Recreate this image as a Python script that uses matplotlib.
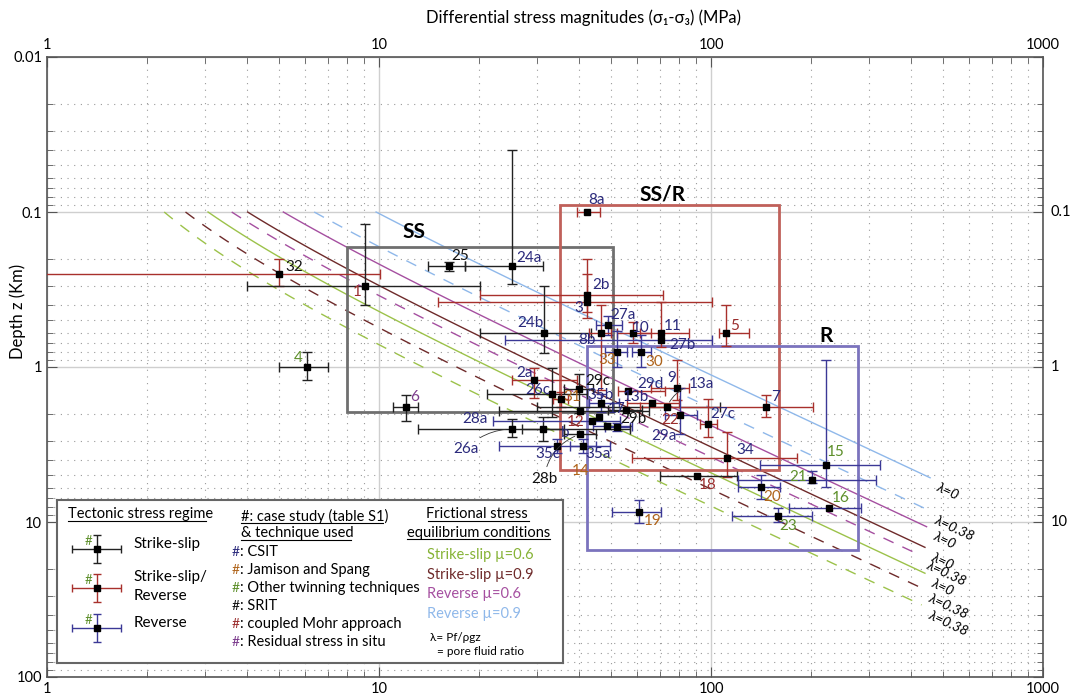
import numpy as np
import matplotlib
matplotlib.use('Agg')
import matplotlib.pyplot as plt
from matplotlib.patches import Rectangle
from matplotlib import transforms
from matplotlib.ticker import FuncFormatter, NullFormatter

plt.rcParams['font.family'] = ['Lato', 'DejaVu Sans']

# ---- case studies -------------------------------------------------------
labels = ['32', '1', '4', '6', '25', '24a', '8a', '2b', '3', '27a', '24b', '8b', '10', '11',
          '27b', '5', '33', '30', '2a', '26c', '31', '29c', '35b', '29d', '13b', '9', '13a',
          '7', '22', '27c', '17', '12', '29b', '29a', 'b', '28a', '26a', '28b', '35c', '35a',
          '34', '18', '15', '21', '20', '16', '23', '19', '']
regime = ['SSR', 'SS', 'SS', 'SS', 'SS', 'SS', 'SSR', 'SSR', 'SSR', 'R', 'SS', 'SSR', 'SSR', 'SSR',
          'R', 'SSR', 'R', 'R', 'SSR', 'SS', 'SSR', 'SS', 'R', 'SSR', 'SSR', 'SSR', 'SS',
          'SSR', 'R', 'SSR', 'SS', 'SS', 'R', 'R', 'SS', 'R', 'SS', 'SS', 'R', 'R',
          'SSR', 'SS', 'R', 'R', 'R', 'R', 'R', 'R', 'SS']
technique = ['S', 'M', 'O', 'P', 'S', 'C', 'C', 'C', 'C', 'C', 'C', 'C', 'C', 'C',
             'C', 'M', 'J', 'J', 'C', 'C', 'J', 'S', 'C', 'C', 'C', 'C', 'C',
             'C', 'M', 'C', 'C', 'M', 'S', 'C', 'C', 'C', 'C', 'S', 'C', 'C',
             'C', 'M', 'O', 'O', 'J', 'O', 'O', 'J', 'S']
stress = [5.0, 9.1, 6.06, 12.1, 16.2, 25.2, 42.2, 42.4, 42.4, 49.1, 31.3, 46.5, 58.3, 70.6,
          70.6, 110.7, 52.2, 61.5, 29.2, 33.3, 35.3, 39.9, 46.5, 56.4, 66.4, 78.8, 73.6,
          146.5, 80.6, 98.1, 55.3, 40.3, 52.2, 48.7, 31.1, 43.7, 25.1, 40.3, 34.3, 41.3,
          112, 90.6, 222, 202, 141.5, 227, 158.8, 60.7, 46.0]
stress_lo = [0.5, 4.0, 5.0, 11.0, 14.0, 18.2, 39.4, 20.2, 15.1, 45.0, 20.2, 43.0, 52, 61,
             24, 106, 48, 58, 25.1, 21.1, 33.5, 36, 43, 52.5, 56, 66, 29.9,
             61.1, 72.7, 92.7, 49, 23, 48, 44, 27, 22.0, 13.1, 36, 23, 37.5,
             57.7, 70.2, 140.5, 120.6, 120.6, 171.8, 115.7, 50.4, np.nan]
stress_hi = [10.1, 20.2, 7.0, 13.1, 18.2, 31.2, 46.3, 71.7, 100.7, 54.0, 43.5, 50.0, 66, 86,
             101, 130.5, 56, 66, 39.4, 42.2, 37.2, 44, 53, 72.7, 80, 86, 106.5,
             202.5, 90.6, 104, 62, 65, 57, 58, 36, 53.2, 57.0, 45, 45, 49.5,
             181, 119.5, 323, 314, 161.4, 282.4, 201.9, 70.7, np.nan]
depth = [0.25, 0.30, 1.0, 1.82, 0.222, 0.222, 0.10, 0.345, 0.38, 0.536, 0.60, 0.60, 0.60, 0.60,
         0.67, 0.60, 0.80, 0.80, 1.21, 1.49, 1.62, 1.39, 1.71, 1.43, 1.70, 1.36, 1.81,
         1.82, 2.04, 2.33, 1.89, 1.91, 2.45, 2.40, 2.52, 2.23, 2.51, 2.71, 3.23, 3.23,
         3.85, 5.05, 4.29, 5.36, 5.92, 8.09, 9.15, 8.66, 2.09]
depth_lo = [0.20, 0.12, 0.80, 1.52, 0.21, 0.040, np.nan, 0.20, 0.25, 0.47, 0.30, 0.40, 0.51, 0.38,
            np.nan, 0.40, 0.59, 0.62, 1.02, 1.01, 1.45, 1.11, 1.5, np.nan, np.nan, 0.90, np.nan,
            1.52, 1.37, 1.61, np.nan, np.nan, 2.3, np.nan, 2.1, np.nan, 2.18, np.nan, 2.9, 2.9,
            2.62, np.nan, 0.90, 4.67, 4.95, np.nan, 8.16, 7.21, np.nan]
depth_hi = [0.30, 0.40, 1.21, 2.22, 0.24, 0.293, np.nan, 0.44, 0.48, 0.62, 0.81, 1.4, 0.70, 0.74,
            np.nan, 0.73, 1.0, 1.0, 1.59, 2.09, 1.8, 1.98, 1.95, np.nan, np.nan, 1.63, np.nan,
            2.09, 2.71, 2.83, np.nan, np.nan, 2.6, np.nan, 3.0, np.nan, 2.84, np.nan, 3.6, 3.6,
            5.10, np.nan, 5.97, 5.63, 7.14, np.nan, 9.95, 10.2, np.nan]

# tectonic regime boxes: (stress min, stress max, depth min, depth max)
box_names = ['SS', 'SS/R', 'R']
box_stress = [(8.0, 50.7), (35.1, 160.3), (42.3, 277)]
box_depth = [(0.168, 1.95), (0.090, 4.62), (0.732, 15.2)]

# frictional equilibrium lines: stress = c + gradient * depth (lambda = 0 and 0.38)
fric_names = ['Strike-slip µ=0.6', 'Strike-slip µ=0.9', 'Reverse µ=0.6', 'Reverse µ=0.9']
fric_grad = [(20.55, 12.54), (30.2, 16.13), (41.5, 26.0), (88.0, 53.8)]   # MPa/km
fric_end = [(441, 431), (441, 431), (446, 426), (457, 451)]                # MPa
fric_c = 1.0                                                               # MPa
fric_lambda = ['0', '0.38']
fric_top = 0.1                                                             # km

tech_names = ['CSIT', 'Jamison and Spang', 'Other twinning techniques', 'SRIT',
              'coupled Mohr approach', 'Residual stress in situ']
tech_keys = ['C', 'J', 'O', 'S', 'M', 'P']

# ---- styles -------------------------------------------------------------
regime_col = {'SS': '#222222', 'SSR': '#a8302c', 'R': '#3b3896'}
tech_col = {'C': '#2b2a7c', 'J': '#b0651c', 'O': '#5d8f2a', 'S': '#111111',
            'M': '#9b2e2e', 'P': '#7b3a8c'}
box_col = ['#6f6f6f', '#c0605a', '#7b73bd']
fric_col = ['#9cc24a', '#6e2a2a', '#a54fa0', '#8fb8ea']

# label offsets in pixels (dx right, dy down), alignment
lab_off = {'32': (6, -7, 'left'), '1': (-8, 6, 'center'), '4': (-9, -9, 'center'),
           '6': (4, -10, 'left'), '25': (3, -10, 'left'), '24a': (4, -8, 'left'),
           '8a': (10, -12, 'center'), '2b': (5, -10, 'left'), '3': (-8, 6, 'center'),
           '27a': (2, -10, 'left'), '24b': (-13, -10, 'center'), '8b': (-14, 7, 'center'),
           '10': (-1, -5, 'left'), '11': (3, -7, 'left'), '27b': (8, 5, 'left'),
           '5': (4, -7, 'left'), '33': (-10, 8, 'center'), '30': (4, 10, 'left'),
           '2a': (-9, -7, 'center'), '26c': (-15, -4, 'center'), '31': (2, -2, 'left'),
           '29c': (7, -8, 'left'), '35b': (0, -8, 'center'), '29d': (22, -7, 'center'),
           '13b': (-16, -6, 'center'), '9': (-5, -10, 'center'), '13a': (22, -23, 'left'),
           '7': (5, -10, 'left'), '22': (-10, 5, 'center'), '27c': (2, -10, 'left'),
           '17': (-9, -1, 'center'), '12': (-4, 11, 'center'), '29b': (3, -8, 'left'),
           '29a': (44, 10, 'left'), 'b': (18, 4, 'left'), '28a': (-104, -2, 'right'),
           '26a': (-46, 20, 'center'), '28b': (-36, 45, 'center'), '35c': (-9, 8, 'center'),
           '35a': (2, 8, 'left'), '34': (9, -8, 'left'), '18': (2, 9, 'left'),
           '15': (1, -13, 'left'), '21': (-14, -3, 'center'), '20': (2, 10, 'left'),
           '16': (3, -10, 'left'), '23': (2, 10, 'left'), '19': (5, 9, 'left')}
leaders = {'13a': 0.3, '26a': -0.2, '28b': -0.3}

fig = plt.figure(figsize=(10.7, 6.99), dpi=100)
ax = fig.add_axes([47 / 1070, 1 - 677 / 699, 996 / 1070, 620 / 699])
ax.set_xscale('log')
ax.set_yscale('log')
ax.set_xlim(1, 1000)
ax.set_ylim(100, 0.01)

ax.grid(which='major', color='#cfcfcf', lw=1.0, ls='-', zorder=0)
ax.grid(which='minor', color='#9a9a9a', lw=0.8, ls=(0, (1, 5)), zorder=0)
fmt = FuncFormatter(lambda v, p: f'{v:g}')
ax.xaxis.set_major_formatter(fmt)
ax.yaxis.set_major_formatter(fmt)
ax.xaxis.set_minor_formatter(NullFormatter())
ax.yaxis.set_minor_formatter(NullFormatter())
ax.tick_params(which='both', direction='in', top=True, right=True, labeltop=True,
               color='#555555', labelsize=10.5)
ax.tick_params(which='major', length=7)
ax.tick_params(which='minor', length=4)
for s in ax.spines.values():
    s.set_color('#555555')
    s.set_linewidth(1.2)
trans_r = transforms.blended_transform_factory(ax.transAxes, ax.transData)
for v in [0.1, 1, 10]:
    ax.text(1.008, v, f'{v:g}', transform=trans_r, ha='left', va='center', fontsize=10.5)

# frictional lines
for k in range(4):
    for j in range(2):
        g = fric_grad[k][j]
        zs = np.logspace(np.log10(fric_top), np.log10((fric_end[k][j] - fric_c) / g), 80)
        xs = fric_c + g * zs
        ax.plot(xs, zs, color=fric_col[k], lw=1.0,
                ls='-' if j == 0 else (0, (8, 7)), zorder=2)
        ax.annotate('λ=' + fric_lambda[j], (xs[-1], zs[-1]), xytext=(7, -9),
                    textcoords='offset pixels', rotation=-25, rotation_mode='anchor',
                    ha='left', va='center', fontsize=10, style='italic', zorder=5)

# regime boxes
for k in range(3):
    x0, x1 = box_stress[k]
    z0, z1 = box_depth[k]
    ax.add_patch(Rectangle((x0, z0), x1 - x0, z1 - z0, fill=False, ec=box_col[k],
                           lw=2.0, zorder=3))
ax.text(11.8, 0.135, 'SS', fontsize=15, fontweight='bold', ha='left', va='center', zorder=5)
ax.text(71.7, 0.077, 'SS/R', fontsize=15, fontweight='bold', ha='center', va='center', zorder=5)
ax.text(222, 0.63, 'R', fontsize=15, fontweight='bold', ha='center', va='center', zorder=5)

# case studies
for i in range(len(labels)):
    col = regime_col[regime[i]]
    xe = None if np.isnan(stress_lo[i]) else [[stress[i] - stress_lo[i]], [stress_hi[i] - stress[i]]]
    ye = None if np.isnan(depth_lo[i]) else [[depth[i] - depth_lo[i]], [depth_hi[i] - depth[i]]]
    ax.errorbar([stress[i]], [depth[i]], xerr=xe, yerr=ye, fmt='s', ms=4.5, mfc='black',
                mec='black', ecolor=col, elinewidth=1.0, capsize=3.5, capthick=1.0, zorder=4)
    if labels[i] == '':
        continue
    dx, dy, ha = lab_off[labels[i]]
    arrow = None
    if labels[i] in leaders:
        arrow = dict(arrowstyle='-', color='#333333', lw=0.6, shrinkA=2, shrinkB=4,
                     connectionstyle=f'arc3,rad={leaders[labels[i]]}')
    ax.annotate(labels[i], (stress[i], depth[i]), xytext=(dx, -dy), textcoords='offset pixels',
                ha=ha, va='center', fontsize=11, color=tech_col[technique[i]],
                arrowprops=arrow, zorder=5)
ax.text(40.4, 4.69, '14', fontsize=11, color=tech_col['J'], ha='center', va='center', zorder=5)

fig.text(0.545, 0.974, 'Differential stress magnitudes (σ₁-σ₃) (MPa)', ha='center',
         va='center', fontsize=12)
fig.text(0.017, 0.555, 'Depth z (Km)', rotation=90, ha='center', va='center', fontsize=12)

# legend panel
lg = fig.add_axes([57.3 / 1070, 1 - 663.3 / 699, 505.4 / 1070, 163.3 / 699], zorder=10)
lg.set_xlim(0, 505.4)
lg.set_ylim(163.3, 0)
lg.set_xticks([])
lg.set_yticks([])
lg.set_facecolor('white')
for s in lg.spines.values():
    s.set_color('#666666')
    s.set_linewidth(1.5)

lg.text(11, 14, 'Tectonic stress regime', fontsize=10.5, va='center')
lg.plot([11, 149], [21, 21], color='k', lw=0.8)
reg_text = [['Strike-slip'], ['Strike-slip/', 'Reverse'], ['Reverse']]
reg_keys = ['SS', 'SSR', 'R']
for k, cy in enumerate([49, 88.3, 128.3]):
    lg.errorbar([39.4], [cy], xerr=24.5, yerr=14, fmt='s', ms=4.5, mfc='black', mec='black',
                ecolor=regime_col[reg_keys[k]], elinewidth=1.0, capsize=3, capthick=1.0)
    lg.text(31, cy - 8, '#', color=tech_col['O'], fontsize=9.5, ha='center', va='center')
    if len(reg_text[k]) == 1:
        lg.text(76, cy - 5, reg_text[k][0], fontsize=11, va='center')
    else:
        lg.text(76, cy - 11, reg_text[k][0], fontsize=11, va='center')
        lg.text(76, cy + 7.5, reg_text[k][1], fontsize=11, va='center')

lg.text(183.4, 16.7, '#: case study (table S1)', fontsize=10.5, va='center')
lg.plot([183.4, 325.7], [23, 23], color='k', lw=0.8)
lg.text(183.4, 33.3, '& technique used', fontsize=10.5, va='center')
lg.plot([183.4, 293.4], [39.5, 39.5], color='k', lw=0.8)
for k, name in enumerate(tech_names):
    yy = 51.7 + k * 18.1
    lg.text(174.4, yy, '#', color=tech_col[tech_keys[k]], fontsize=10, va='center')
    lg.text(182.4, yy, ': ' + name, fontsize=10.5, va='center')

lg.text(421.4, 14.3, 'Frictional stress ', fontsize=10.5, ha='center', va='center')
lg.plot([371, 472], [21, 21], color='k', lw=0.8)
lg.text(421.4, 32.7, 'equilibrium conditions', fontsize=10.5, ha='center', va='center')
lg.plot([350, 493], [38.5, 38.5], color='k', lw=0.8)
for k, name in enumerate(fric_names):
    lg.text(370, 55 + k * 19.7, name, color=fric_col[k] if k != 0 else '#86b336',
            fontsize=10.5, va='center')
lg.text(372.7, 137.3, 'λ= Pf/ρgz', fontsize=8.5, va='center')
lg.text(379.4, 151.7, '= pore fluid ratio', fontsize=8.5, va='center')

fig.savefig('out.png', dpi=100)
